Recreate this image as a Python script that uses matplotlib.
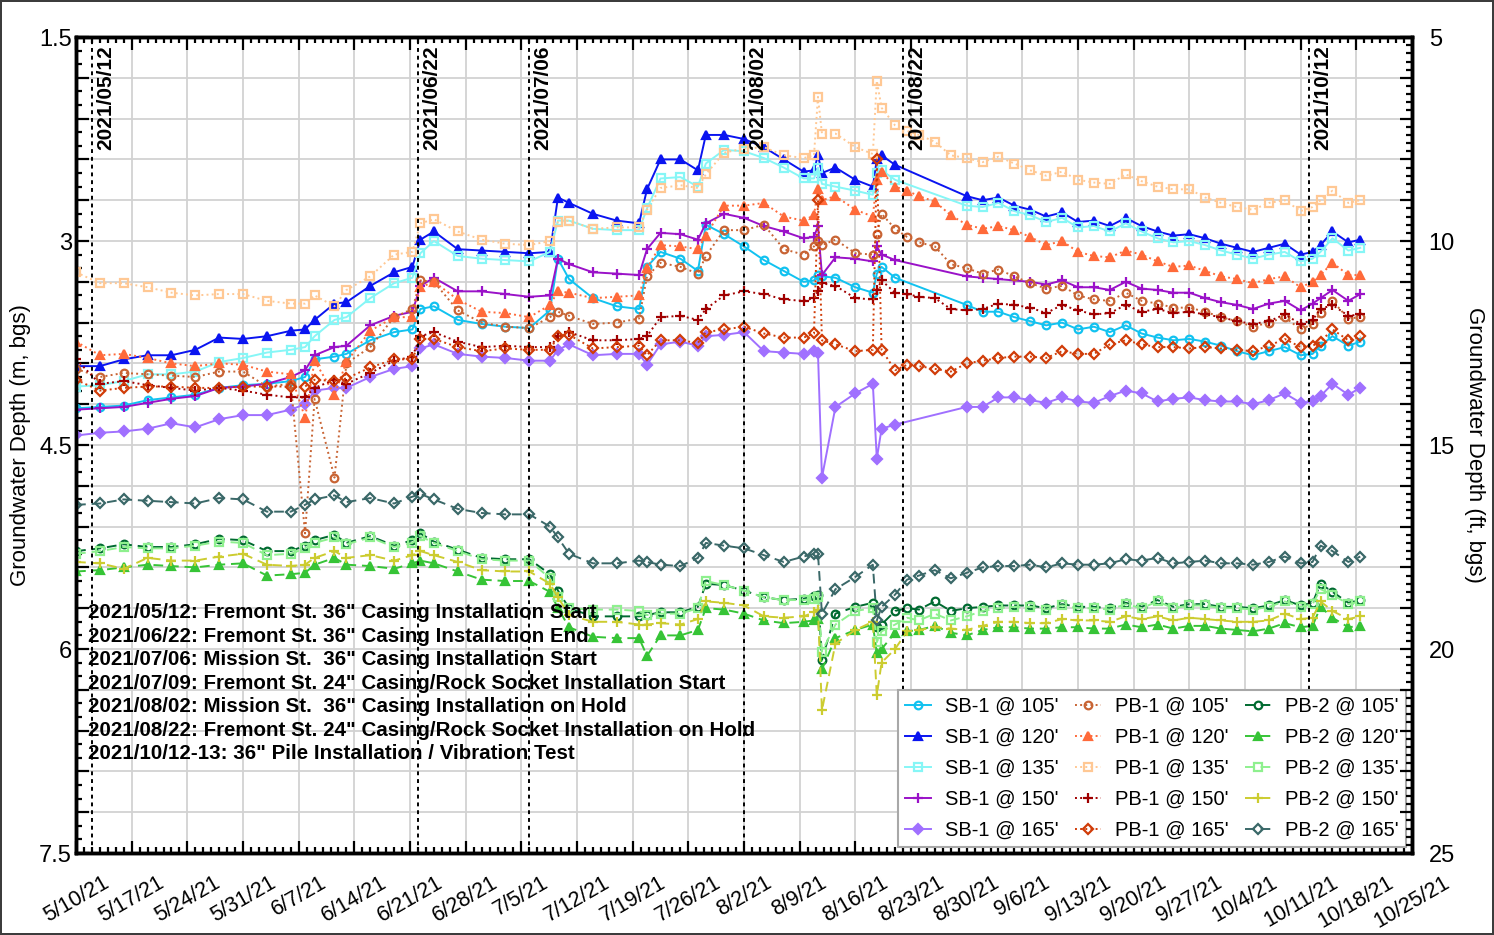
import numpy as np
import pandas as pd
import matplotlib
matplotlib.use("Agg")
import matplotlib.pyplot as plt
import matplotlib.dates as mdates
from matplotlib.ticker import MultipleLocator, FuncFormatter

plt.rcParams['font.family'] = ['Liberation Sans', 'DejaVu Sans']

nan = np.nan
START = pd.Timestamp("2021-05-10")

# reading times, days after 2021-05-10 (shared by all loggers)
DAYS = [0, 3, 6, 9, 12, 15, 18, 21, 24, 27,
        28.8, 30, 32.5, 34, 37, 40, 42.3, 43.3, 45, 48,
        51, 54, 57, 59.6, 60.6, 62, 65, 68, 70.8, 71.8,
        73.5, 76, 78.2, 79.2, 81.5, 84, 86.5, 89, 91.5, 92.8,
        93.3, 93.8, 95.5, 98, 100.2, 100.7, 101.3, 103, 104.5, 106,
        108, 110, 112, 114, 116, 118, 120, 122, 124, 126,
        128, 130, 132, 134, 136, 138, 140, 142, 144, 146,
        148, 150, 152, 154, 155.5, 156.5, 158, 160, 161.5]

# groundwater depth (m, bgs)
SB1_105 = [4.23, 4.22, 4.21, 4.17, 4.15, 4.13, 4.08, 4.06, 4.05, 4.03,
           4.00, 3.87, 3.85, 3.83, 3.73, 3.67, 3.65, 3.50, 3.48, 3.58,
           3.61, 3.63, 3.64, 3.51, 3.13, 3.28, 3.42, 3.48, 3.50, 3.19,
           3.08, 3.13, 3.22, 2.88, 2.95, 3.04, 3.14, 3.22, 3.30, 3.29,
           3.25, 3.26, 3.27, 3.34, 3.38, 3.24, 3.19, 3.27, nan, nan,
           nan, nan, 3.47, 3.52, 3.52, 3.56, 3.59, 3.62, 3.60, 3.65,
           3.63, 3.67, 3.62, 3.68, 3.71, 3.73, 3.72, 3.74, 3.77, 3.81,
           3.84, 3.81, 3.78, 3.84, 3.83, 3.77, 3.70, 3.77, 3.74]
SB1_120 = [3.92, 3.92, 3.87, 3.84, 3.84, 3.80, 3.71, 3.72, 3.70, 3.66,
           3.65, 3.58, 3.46, 3.45, 3.33, 3.23, 3.19, 2.99, 2.93, 3.06,
           3.07, 3.08, 3.09, 3.08, 2.68, 2.72, 2.80, 2.85, 2.87, 2.62,
           2.40, 2.40, 2.48, 2.22, 2.22, 2.25, 2.31, 2.40, 2.49, 2.48,
           2.37, 2.50, 2.46, 2.55, 2.60, 2.40, 2.37, 2.44, nan, nan,
           nan, nan, 2.67, 2.70, 2.68, 2.74, 2.77, 2.82, 2.79, 2.86,
           2.85, 2.89, 2.83, 2.89, 2.93, 2.96, 2.95, 2.98, 3.02, 3.05,
           3.08, 3.05, 3.02, 3.10, 3.08, 3.03, 2.93, 3.01, 2.99]
SB1_135 = [4.07, 4.06, 4.03, 3.98, 3.98, 3.96, 3.89, 3.86, 3.82, 3.80,
           3.78, 3.70, 3.58, 3.56, 3.42, 3.31, 3.27, 3.09, 3.00, 3.11,
           3.13, 3.14, 3.15, 3.08, 2.85, 2.85, 2.91, 2.92, 2.92, 2.76,
           2.54, 2.53, 2.60, 2.43, 2.33, 2.34, 2.39, 2.46, 2.54, 2.54,
           2.46, 2.58, 2.60, 2.63, 2.66, 2.50, 2.48, 2.55, nan, nan,
           nan, nan, 2.74, 2.75, 2.72, 2.78, 2.81, 2.86, 2.83, 2.90,
           2.89, 2.93, 2.87, 2.93, 2.98, 3.01, 3.00, 3.03, 3.07, 3.10,
           3.13, 3.10, 3.08, 3.15, 3.13, 3.08, 2.98, 3.07, 3.05]
SB1_150 = [4.24, 4.23, 4.22, 4.19, 4.16, 4.14, 4.08, 4.07, 4.05, 4.00,
           3.95, 3.84, 3.78, 3.77, 3.62, 3.55, 3.52, 3.33, 3.27, 3.37,
           3.37, 3.39, 3.41, 3.40, 3.13, 3.17, 3.23, 3.24, 3.25, 3.06,
           2.94, 2.95, 2.99, 2.87, 2.80, 2.83, 2.89, 2.93, 2.98, 2.97,
           2.89, 3.25, 3.12, 3.13, 3.15, 3.04, 3.10, 3.14, nan, nan,
           nan, nan, 3.26, 3.27, 3.28, 3.29, 3.30, 3.32, 3.29, 3.34,
           3.34, 3.36, 3.30, 3.35, 3.36, 3.38, 3.38, 3.42, 3.45, 3.47,
           3.50, 3.46, 3.44, 3.51, 3.46, 3.42, 3.36, 3.44, 3.39]
SB1_165 = [4.43, 4.41, 4.40, 4.38, 4.34, 4.37, 4.31, 4.28, 4.28, 4.24,
           4.20, 4.10, 4.08, 4.08, 4.00, 3.94, 3.92, 3.79, 3.76, 3.83,
           3.85, 3.86, 3.88, 3.88, 3.80, 3.76, 3.84, 3.83, 3.83, 3.91,
           3.76, 3.74, 3.77, 3.70, 3.69, 3.67, 3.81, 3.82, 3.83, 3.81,
           3.82, 4.74, 4.22, 4.12, 4.05, 4.60, 4.38, 4.35, nan, nan,
           nan, nan, 4.22, 4.22, 4.15, 4.15, 4.17, 4.19, 4.15, 4.18,
           4.19, 4.14, 4.10, 4.12, 4.18, 4.16, 4.15, 4.17, 4.18, 4.18,
           4.20, 4.17, 4.12, 4.19, 4.18, 4.14, 4.05, 4.13, 4.08]

PB1_105 = [3.94, 4.00, 3.97, 3.98, 3.99, 4.00, 3.96, 3.96, 4.07, 4.05,
           5.15, 4.16, 4.74, 3.90, 3.78, 3.56, 3.50, 3.29, 3.30, 3.51,
           3.60, 3.63, 3.64, 3.56, 3.52, 3.55, 3.61, 3.60, 3.57, 3.26,
           3.16, 3.19, 3.24, 3.11, 2.92, 2.92, 2.88, 3.06, 3.10, 3.04,
           3.00, 3.03, 2.99, 3.09, 3.10, 2.95, 2.80, 2.91, 2.97, 3.01,
           3.04, 3.17, 3.20, 3.24, 3.21, 3.26, 3.31, 3.35, 3.33, 3.40,
           3.43, 3.44, 3.38, 3.44, 3.46, 3.49, 3.49, 3.52, 3.56, 3.59,
           3.63, 3.60, 3.56, 3.65, 3.61, 3.53, 3.44, 3.57, 3.56]
PB1_120 = [3.74, 3.84, 3.83, 3.86, 3.90, 3.92, 3.90, 3.91, 3.96, 3.98,
           4.30, 3.88, 4.13, 3.89, 3.66, 3.56, 3.56, 3.34, 3.30, 3.43,
           3.52, 3.53, 3.56, 3.47, 3.37, 3.38, 3.42, 3.41, 3.40, 3.20,
           3.03, 3.04, 3.06, 2.96, 2.74, 2.74, 2.72, 2.82, 2.85, 2.81,
           2.62, 2.70, 2.67, 2.77, 2.82, 2.55, 2.49, 2.60, 2.63, 2.67,
           2.71, 2.81, 2.88, 2.91, 2.89, 2.92, 2.97, 3.03, 3.00, 3.08,
           3.11, 3.12, 3.07, 3.10, 3.15, 3.19, 3.18, 3.22, 3.26, 3.28,
           3.31, 3.28, 3.26, 3.34, 3.30, 3.25, 3.16, 3.25, 3.25]
PB1_135 = [3.23, 3.31, 3.31, 3.34, 3.38, 3.40, 3.39, 3.39, 3.44, 3.46,
           3.46, 3.40, 3.48, 3.36, 3.26, 3.10, 3.08, 2.87, 2.84, 2.93,
           2.99, 3.02, 3.03, 3.00, 2.86, 2.85, 2.91, 2.90, 2.90, 2.77,
           2.61, 2.59, 2.61, 2.51, 2.35, 2.32, 2.31, 2.37, 2.39, 2.37,
           1.94, 2.21, 2.21, 2.31, 2.36, 1.82, 2.02, 2.15, 2.19, 2.22,
           2.27, 2.37, 2.39, 2.42, 2.38, 2.43, 2.48, 2.52, 2.49, 2.55,
           2.57, 2.58, 2.51, 2.56, 2.60, 2.62, 2.62, 2.68, 2.72, 2.75,
           2.77, 2.72, 2.70, 2.78, 2.75, 2.70, 2.63, 2.72, 2.70]
PB1_150 = [3.87, 4.05, 4.03, 4.06, 4.08, 4.10, 4.08, 4.10, 4.13, 4.15,
           4.15, 4.08, 4.02, 4.05, 3.97, 3.88, 3.85, 3.70, 3.67, 3.74,
           3.78, 3.77, 3.78, 3.78, 3.70, 3.67, 3.73, 3.73, 3.72, 3.70,
           3.56, 3.55, 3.58, 3.50, 3.40, 3.37, 3.39, 3.43, 3.44, 3.42,
           3.37, 3.31, 3.33, 3.42, 3.43, 3.36, 3.29, 3.38, 3.39, 3.41,
           3.42, 3.50, 3.51, 3.50, 3.46, 3.47, 3.49, 3.53, 3.47, 3.51,
           3.54, 3.53, 3.47, 3.52, 3.50, 3.53, 3.52, 3.54, 3.56, 3.59,
           3.61, 3.59, 3.54, 3.61, 3.58, 3.50, 3.47, 3.55, 3.54]
PB1_165 = [4.02, 4.10, 4.08, 4.07, 4.07, 4.08, 4.08, 4.07, 4.07, 4.07,
           4.07, 4.02, 4.03, 4.01, 3.93, 3.87, 3.87, 3.72, 3.72, 3.78,
           3.81, 3.79, 3.80, 3.80, 3.70, 3.69, 3.79, 3.78, 3.77, 3.84,
           3.73, 3.73, 3.75, 3.67, 3.65, 3.63, 3.68, 3.71, 3.71, 3.68,
           2.70, 3.73, 3.76, 3.81, 3.80, 2.40, 3.80, 3.95, 3.91, 3.92,
           3.94, 3.96, 3.90, 3.88, 3.86, 3.85, 3.85, 3.86, 3.81, 3.83,
           3.83, 3.76, 3.73, 3.76, 3.78, 3.78, 3.79, 3.78, 3.79, 3.80,
           3.81, 3.77, 3.72, 3.78, 3.77, 3.74, 3.65, 3.73, 3.70]

PB2_105 = [5.28, 5.26, 5.23, 5.25, 5.25, 5.23, 5.19, 5.20, 5.28, 5.28,
           5.24, 5.20, 5.16, 5.22, 5.17, 5.24, 5.20, 5.15, 5.21, 5.27,
           5.33, 5.34, 5.34, 5.45, 5.57, 5.70, 5.76, 5.76, 5.76, 5.75,
           5.73, 5.73, 5.69, 5.52, 5.53, 5.57, 5.62, 5.64, 5.63, 5.61,
           5.60, 6.08, 5.74, 5.69, 5.66, 5.84, 5.82, 5.72, 5.70, 5.71,
           5.65, 5.72, 5.70, 5.69, 5.68, 5.68, 5.68, 5.70, 5.67, 5.69,
           5.69, 5.70, 5.66, 5.69, 5.64, 5.69, 5.67, 5.67, 5.69, 5.69,
           5.70, 5.68, 5.64, 5.68, 5.66, 5.52, 5.58, 5.66, 5.64]
PB2_120 = [5.43, 5.42, 5.40, 5.38, 5.39, 5.40, 5.38, 5.37, 5.46, 5.45,
           5.44, 5.38, 5.33, 5.38, 5.39, 5.41, 5.37, 5.35, 5.37, 5.43,
           5.49, 5.50, 5.50, 5.58, 5.70, 5.84, 5.91, 5.92, 5.92, 6.05,
           5.90, 5.90, 5.86, 5.70, 5.71, 5.74, 5.79, 5.81, 5.80, 5.79,
           5.78, 6.15, 5.92, 5.86, 5.82, 6.03, 6.00, 5.88, 5.87, 5.86,
           5.83, 5.88, 5.90, 5.86, 5.84, 5.84, 5.85, 5.85, 5.84, 5.84,
           5.85, 5.85, 5.82, 5.84, 5.82, 5.85, 5.83, 5.83, 5.85, 5.86,
           5.87, 5.85, 5.81, 5.84, 5.83, 5.69, 5.77, 5.84, 5.83]
PB2_135 = [5.30, 5.28, 5.25, 5.26, 5.26, 5.24, 5.21, 5.22, 5.31, 5.30,
           5.26, 5.22, 5.18, 5.23, 5.18, 5.25, 5.22, 5.17, 5.22, 5.28,
           5.34, 5.35, 5.35, 5.48, 5.62, 5.70, 5.71, 5.71, 5.72, 5.75,
           5.74, 5.74, 5.70, 5.50, 5.53, 5.57, 5.62, 5.64, 5.64, 5.63,
           5.62, 6.02, 5.82, 5.72, 5.70, 5.95, 5.87, 5.82, 5.77, 5.79,
           5.74, 5.79, 5.76, 5.72, 5.70, 5.69, 5.69, 5.71, 5.68, 5.70,
           5.70, 5.71, 5.67, 5.70, 5.65, 5.70, 5.68, 5.68, 5.70, 5.70,
           5.71, 5.69, 5.65, 5.69, 5.67, 5.56, 5.60, 5.67, 5.65]
PB2_150 = [5.36, 5.37, 5.41, 5.33, 5.35, 5.35, 5.32, 5.30, 5.38, 5.39,
           5.38, 5.33, 5.28, 5.33, 5.31, 5.35, 5.31, 5.28, 5.31, 5.36,
           5.42, 5.43, 5.43, 5.52, 5.62, 5.75, 5.80, 5.80, 5.82, 5.82,
           5.81, 5.82, 5.78, 5.65, 5.66, 5.68, 5.76, 5.77, 5.76, 5.73,
           5.71, 6.45, 5.96, 5.86, 5.80, 6.34, 6.10, 6.00, 5.87, 5.86,
           5.84, 5.85, 5.86, 5.83, 5.80, 5.80, 5.81, 5.81, 5.78, 5.79,
           5.79, 5.80, 5.76, 5.78, 5.76, 5.79, 5.77, 5.78, 5.79, 5.80,
           5.80, 5.79, 5.74, 5.78, 5.77, 5.65, 5.72, 5.78, 5.76]
PB2_165 = [4.94, 4.93, 4.90, 4.91, 4.92, 4.93, 4.89, 4.90, 4.99, 4.99,
           4.94, 4.90, 4.87, 4.92, 4.89, 4.93, 4.88, 4.86, 4.90, 4.97,
           5.00, 5.01, 5.01, 5.10, 5.18, 5.30, 5.37, 5.37, 5.35, 5.36,
           5.38, 5.39, 5.33, 5.22, 5.24, 5.26, 5.31, 5.36, 5.32, 5.30,
           5.30, 5.74, 5.56, 5.47, 5.38, 5.79, 5.69, 5.60, 5.49, 5.46,
           5.42, 5.48, 5.44, 5.40, 5.39, 5.39, 5.38, 5.40, 5.37, 5.38,
           5.38, 5.37, 5.34, 5.35, 5.33, 5.37, 5.36, 5.35, 5.37, 5.37,
           5.38, 5.36, 5.32, 5.37, 5.36, 5.24, 5.28, 5.36, 5.32]

LABELS = ["SB-1 @ 105'", "SB-1 @ 120'", "SB-1 @ 135'", "SB-1 @ 150'", "SB-1 @ 165'",
          "PB-1 @ 105'", "PB-1 @ 120'", "PB-1 @ 135'", "PB-1 @ 150'", "PB-1 @ 165'",
          "PB-2 @ 105'", "PB-2 @ 120'", "PB-2 @ 135'", "PB-2 @ 150'", "PB-2 @ 165'"]
SERIES = [SB1_105, SB1_120, SB1_135, SB1_150, SB1_165,
          PB1_105, PB1_120, PB1_135, PB1_150, PB1_165,
          PB2_105, PB2_120, PB2_135, PB2_150, PB2_165]

EVENTS = ["2021-05-12", "2021-06-22", "2021-07-06", "2021-08-02", "2021-08-22", "2021-10-12"]
NOTES = [
    '2021/05/12: Fremont St. 36" Casing Installation Start',
    '2021/06/22: Fremont St. 36" Casing Installation End',
    '2021/07/06: Mission St.  36" Casing Installation Start',
    '2021/07/09: Fremont St. 24" Casing/Rock Socket Installation Start',
    '2021/08/02: Mission St.  36" Casing Installation on Hold',
    '2021/08/22: Fremont St. 24" Casing/Rock Socket Installation on Hold',
    '2021/10/12-13: 36" Pile Installation / Vibration Test',
]

# styles: colour, marker, filled
COLORS = ["#12c2f0", "#0a14f0", "#86f6f6", "#9a12c8", "#a070ff",
          "#c86434", "#ff6a3a", "#ffc894", "#a00000", "#d03c08",
          "#006a30", "#36c436", "#8ef08e", "#cccc30", "#3a6868"]
MARKERS = ["o", "^", "s", "+", "D"] * 3
FILLED = [False, True, False, True, True,
          False, True, False, True, False,
          False, True, False, True, False]
LSTYLE = ["-"] * 5 + [":"] * 5 + [(0, (5, 3))] * 5

fig = plt.figure(figsize=(14.94, 9.35), dpi=100, linewidth=1.5, edgecolor="#3c3c3c")
ax = fig.add_axes([0.0509, 0.0877, 0.8942, 0.8727])

dates = START + pd.to_timedelta(DAYS, unit="D")
for lab, vals, c, m, f, ls in zip(LABELS, SERIES, COLORS, MARKERS, FILLED, LSTYLE):
    s = pd.Series(vals, index=dates, dtype=float).dropna()
    ax.plot(s.index, s.values, color=c, ls=ls, lw=1.4, marker=m,
            ms=5.5 if m != "+" else 7, mew=1.6,
            mfc=c if f else "none", mec=c, label=lab, zorder=3)

for d in EVENTS:
    t = pd.Timestamp(d)
    ax.axvline(t, color="black", ls=(0, (2, 2)), lw=1.4, zorder=4)
    ax.annotate(t.strftime("%Y/%m/%d"), xy=(t, 1.5), xytext=(3, -6),
                textcoords="offset points", rotation=90, ha="left", va="top",
                fontsize=15, fontweight="bold", zorder=6)

ax.text(0.009, 0.306, "\n".join(NOTES), transform=ax.transAxes, ha="left", va="top",
        fontsize=14.8, fontweight="bold", linespacing=1.3, zorder=6)

ax.set_xlim(pd.Timestamp("2021-05-10"), pd.Timestamp("2021-10-25"))
ax.set_ylim(7.5, 1.5)
ax.xaxis.set_major_locator(mdates.WeekdayLocator(byweekday=mdates.MO))
ax.xaxis.set_minor_locator(mdates.DayLocator())
ax.xaxis.set_major_formatter(FuncFormatter(
    lambda v, p: (lambda d: f"{d.month}/{d.day}/{d:%y}")(mdates.num2date(v))))
ax.yaxis.set_major_locator(MultipleLocator(0.3))
ax.yaxis.set_minor_locator(MultipleLocator(0.1))
ax.yaxis.set_major_formatter(FuncFormatter(
    lambda v, p: f"{v:g}" if abs(v / 1.5 - round(v / 1.5)) < 1e-6 else ""))

ax.grid(True, which="major", color="#d2d2d2", lw=1.3, zorder=0)
ax.tick_params(which="both", direction="in", top=True, right=False, width=1.6, color="black")
ax.tick_params(axis="y", which="major", length=9, labelsize=17, pad=3)
ax.tick_params(axis="y", which="minor", length=4.5)
ax.tick_params(axis="x", which="major", length=9, labelsize=15.5, pad=14)
ax.tick_params(axis="x", which="minor", length=4)
for lbl in ax.get_xticklabels():
    lbl.set_rotation(30)
    lbl.set_ha("center")
for sp in ax.spines.values():
    sp.set_linewidth(2.5)
ax.set_ylabel("Groundwater Depth (m, bgs)", fontsize=16, labelpad=6)

ax2 = ax.twinx()
ax2.set_ylim(25, 5)
ax2.yaxis.set_major_locator(MultipleLocator(1))
ax2.yaxis.set_minor_locator(MultipleLocator(0.2))
ax2.yaxis.set_major_formatter(FuncFormatter(
    lambda v, p: f"{v:g}" if abs(v / 5 - round(v / 5)) < 1e-6 else ""))
ax2.tick_params(which="both", direction="in", width=1.6)
ax2.tick_params(which="major", length=9, labelsize=17, pad=12)
ax2.tick_params(which="minor", length=4.5)
for sp in ax2.spines.values():
    sp.set_linewidth(2.5)
ax2.set_ylabel("Groundwater Depth (ft, bgs)", fontsize=16, rotation=270, labelpad=22)

leg = ax.legend(loc="lower right", ncol=3, fontsize=14.5, frameon=True, fancybox=False,
                edgecolor="#a8a8a8", framealpha=1, handlelength=1.3, handletextpad=0.7,
                columnspacing=0.8, borderaxespad=0.3, labelspacing=0.6, borderpad=0.35)
leg.get_frame().set_linewidth(1.5)
leg.set_zorder(8)

fig.savefig("out.png", dpi=100)
